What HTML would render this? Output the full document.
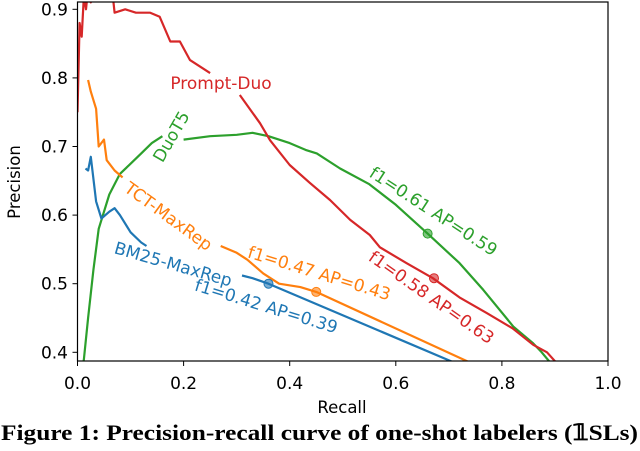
<!DOCTYPE html>
<html><head><meta charset="utf-8"><style>
body{margin:0;background:#fff;width:640px;height:446px;overflow:hidden}
svg text{font-family:"DejaVu Sans","Liberation Sans",sans-serif}
</style></head><body>
<svg id="chart" width="640" height="446" viewBox="0 0 640 446" xmlns="http://www.w3.org/2000/svg">
<defs><clipPath id="pc"><rect x="77.5" y="2" width="530.5" height="359"/></clipPath></defs>
<g id="series" clip-path="url(#pc)"></g>
<g id="labels"></g>
<rect x="77.5" y="2" width="530.5" height="359" fill="none" stroke="#000" stroke-width="1.2"/>
<g id="axes"></g>
<text x="342" y="413" font-size="16.5" text-anchor="middle">Recall</text>
<text transform="translate(20,182) rotate(-90)" font-size="16.5" text-anchor="middle">Precision</text>
<text x="1" y="440" font-size="22.5" font-weight="bold" textLength="637" lengthAdjust="spacingAndGlyphs" style="font-family:'Liberation Serif',serif">Figure 1: Precision-recall curve of one-shot labelers (𝟙SLs)</text>
</svg>
<script>
const xTicks=[0,0.2,0.4,0.6,0.8,1.0];
const xTickLabels=["0.0","0.2","0.4","0.6","0.8","1.0"];
const yTicks=[0.4,0.5,0.6,0.7,0.8,0.9];
const yTickLabels=["0.4","0.5","0.6","0.7","0.8","0.9"];
const promptRecall=[0,0.004,0.008,0.012,0.016,0.02,0.025,0.03,0.04,0.05,0.065,0.07,0.09,0.11,0.137,0.155,0.175,0.193,0.212,0.25,0.27,0.306,0.344,0.363,0.40,0.438,0.476,0.514,0.551,0.57,0.62,0.67,0.72,0.772,0.82,0.859,0.885,0.9];
const promptPrec=[0.75,0.88,0.86,0.92,0.90,0.93,0.91,0.95,0.94,0.96,0.93,0.895,0.9,0.895,0.895,0.889,0.853,0.853,0.826,0.807,null,0.775,0.734,0.709,0.673,0.647,0.622,0.593,0.571,0.553,0.53,0.508,0.48,0.457,0.435,0.411,0.4,0.387];
const duoRecall=[0.005,0.012,0.02,0.03,0.04,0.06,0.08,0.1,0.12,0.14,0.16,0.18,0.2,0.25,0.3,0.33,0.36,0.4,0.43,0.451,0.495,0.55,0.6,0.66,0.72,0.765,0.822,0.859,0.875,0.889];
const duoPrec=[0.36,0.39,0.45,0.52,0.58,0.63,0.66,0.675,0.69,0.705,0.715,null,0.71,0.715,0.717,0.72,0.715,0.705,0.695,0.69,0.668,0.645,0.615,0.573,0.53,0.491,0.437,0.413,0.4,0.387];
const tctRecall=[0.02,0.025,0.035,0.04,0.05,0.055,0.07,0.085,0.2,0.27,0.3,0.32,0.35,0.38,0.42,0.45,0.74];
const tctPrec=[0.797,0.78,0.755,0.70,0.71,0.68,0.665,0.655,null,0.555,0.545,0.535,0.515,0.5,0.495,0.488,0.385];
const bmRecall=[0.015,0.02,0.025,0.035,0.045,0.06,0.07,0.08,0.1,0.12,0.13,0.2,0.31,0.33,0.36,0.71];
const bmPrec=[0.668,0.665,0.685,0.62,0.595,0.605,0.61,0.6,0.575,0.56,0.555,null,0.512,0.508,0.5,0.385];
const markerRecall=[0.66,0.672,0.45,0.36];
const markerPrec=[0.573,0.508,0.488,0.5];
const colors=["#2ca02c","#d62728","#ff7f0e","#1f77b4"];
const NS="http://www.w3.org/2000/svg";
const X0=77.5,X1=608,Y9=9.3,PY=686;
function sx(v){return X0+v*(X1-X0);}
function sy(v){return Y9+(0.9-v)*PY;}
const axes=document.getElementById('axes');
xTicks.forEach((t,i)=>{
 const l=document.createElementNS(NS,'line');
 
 
 l.setAttribute('x1',sx(t));l.setAttribute('x2',sx(t));l.setAttribute('y1',361);l.setAttribute('y2',366);l.setAttribute('stroke','#000');
 axes.appendChild(l);
 const tx=document.createElementNS(NS,'text');
 
 
 tx.setAttribute('x',sx(t));tx.setAttribute('y',389);tx.setAttribute('font-size','17');tx.setAttribute('text-anchor','middle');
 tx.textContent=xTickLabels[i];axes.appendChild(tx);
});
yTicks.forEach((t,i)=>{
 const l=document.createElementNS(NS,'line');
 
 
 l.setAttribute('x1',72.5);l.setAttribute('x2',X0);l.setAttribute('y1',sy(t));l.setAttribute('y2',sy(t));l.setAttribute('stroke','#000');
 axes.appendChild(l);
 const tx=document.createElementNS(NS,'text');
 
 
 tx.setAttribute('x',68);tx.setAttribute('y',sy(t)+6);tx.setAttribute('font-size','17');tx.setAttribute('text-anchor','end');
 tx.textContent=yTickLabels[i];axes.appendChild(tx);
});
const ser=document.getElementById('series');
function draw(rs,ps,c,name){
 let d='',pen=false;
 rs.forEach((r,i)=>{const p=ps[i];if(p===null){pen=false;return;}d+=(pen?'L':'M')+sx(r).toFixed(1)+' '+sy(p).toFixed(1)+' ';pen=true;});
 const path=document.createElementNS(NS,'path');
 
 
 path.setAttribute('d',d);path.setAttribute('fill','none');path.setAttribute('stroke',c);path.setAttribute('stroke-width','2.2');path.setAttribute('stroke-linejoin','round');
 ser.appendChild(path);
}
draw(duoRecall,duoPrec,colors[0],'duot5-curve');
draw(promptRecall,promptPrec,colors[1],'prompt-duo-curve');
draw(tctRecall,tctPrec,colors[2],'tct-maxrep-curve');
draw(bmRecall,bmPrec,colors[3],'bm25-maxrep-curve');
markerRecall.forEach((r,i)=>{
 const c=document.createElementNS(NS,'circle');
 
 
 c.setAttribute('cx',sx(r));c.setAttribute('cy',sy(markerPrec[i]));c.setAttribute('r',4.5);c.setAttribute('fill',colors[i]);c.setAttribute('stroke',colors[i]);c.setAttribute('fill-opacity','0.6');
 ser.appendChild(c);
});
const labs=[["Prompt-Duo",221,84,0,1,'prompt-duo-label'],["DuoT5",172,137,-60,0,'duot5-label'],["TCT-MaxRep",168,217,36,2,'tct-maxrep-label'],["BM25-MaxRep",173,265,16,3,'bm25-maxrep-label'],
["f1=0.61 AP=0.59",433,212,33,0,'duot5-score-label'],["f1=0.58 AP=0.63",431,298,35,1,'prompt-duo-score-label'],["f1=0.47 AP=0.43",319,274,17,2,'tct-score-label'],["f1=0.42 AP=0.39",266,307,17,3,'bm25-score-label']];
const lg=document.getElementById('labels');
labs.forEach(a=>{
 const t=document.createElementNS(NS,'text');
 
 
 t.setAttribute('transform','translate('+a[1]+','+a[2]+') rotate('+a[3]+')');
 t.setAttribute('font-size','17');t.setAttribute('text-anchor','middle');t.setAttribute('dominant-baseline','middle');t.setAttribute('fill',colors[a[4]]);
 t.textContent=a[0];lg.appendChild(t);
});
</script>
</body></html>
